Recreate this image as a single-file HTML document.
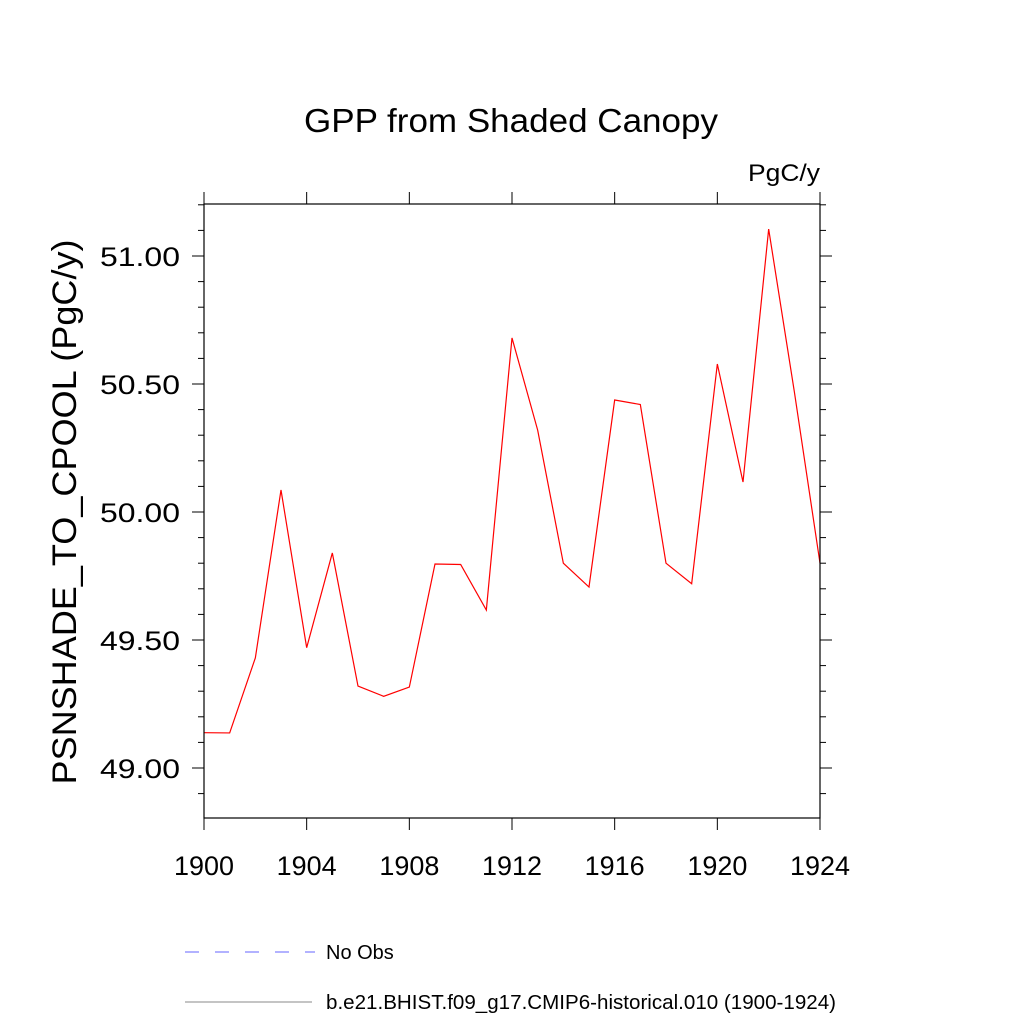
<!DOCTYPE html>
<html><head><meta charset="utf-8"><style>
body{margin:0;background:#fff}
svg{display:block;font-family:"Liberation Sans",sans-serif}
</style></head><body>
<svg id="chart" width="1024" height="1024" viewBox="0 0 1024 1024" xmlns="http://www.w3.org/2000/svg">
<rect width="1024" height="1024" fill="#fff"/>
<text x="511" y="132" font-size="33" text-anchor="middle" textLength="414" lengthAdjust="spacingAndGlyphs">GPP from Shaded Canopy</text>
<text x="820" y="181" font-size="24" text-anchor="end" textLength="72" lengthAdjust="spacingAndGlyphs">PgC/y</text>
<text transform="translate(76,512) rotate(-90)" font-size="34" text-anchor="middle" textLength="545" lengthAdjust="spacingAndGlyphs">PSNSHADE_TO_CPOOL  (PgC/y)</text>
<g id="ticks"></g>
<polyline id="series" fill="none" stroke="#ff0000" stroke-width="1.2"/>
<rect x="204" y="204" width="616" height="614" fill="none" stroke="#000" stroke-width="1.2"/>
<line x1="185" y1="952" x2="315" y2="952" stroke="#6666ff" stroke-width="1" stroke-dasharray="14,16"/>
<text x="326" y="959" font-size="20">No Obs</text>
<line x1="185" y1="1002" x2="312" y2="1002" stroke="#888" stroke-width="1"/>
<text x="326" y="1009" font-size="20" textLength="510" lengthAdjust="spacingAndGlyphs">b.e21.BHIST.f09_g17.CMIP6-historical.010 (1900-1924)</text>
</svg>
<script>
const years=[1900,1901,1902,1903,1904,1905,1906,1907,1908,1909,1910,1911,1912,1913,1914,1915,1916,1917,1918,1919,1920,1921,1922,1923,1924];
const values=[49.138,49.137,49.43,50.086,49.47,49.84,49.32,49.28,49.316,49.797,49.795,49.617,50.68,50.32,49.80,49.707,50.4375,50.42,49.80,49.72,50.578,50.117,51.105,50.47,49.80];
const xTicks=[1900,1904,1908,1912,1916,1920,1924];
const yTicks=[49.0,49.5,50.0,50.5,51.0];
const yTickLabels=["49.00","49.50","50.00","50.50","51.00"];
const X=v=>204+(v-1900)*616/24;
const Y=v=>512-(v-50)*256;
const ns="http://www.w3.org/2000/svg";
const g=document.getElementById('ticks');
function ln(x1,y1,x2,y2,name){const l=document.createElementNS(ns,'line');
l.setAttribute('x1',x1);l.setAttribute('y1',y1);l.setAttribute('x2',x2);l.setAttribute('y2',y2);
l.setAttribute('stroke','#000');l.setAttribute('stroke-width','1');


g.appendChild(l);}
function tx(x,y,s,anchor,len,name){const t=document.createElementNS(ns,'text');
t.setAttribute('x',x);t.setAttribute('y',y);t.setAttribute('font-size','27');t.setAttribute('text-anchor',anchor);t.textContent=s;
t.setAttribute('textLength',len);t.setAttribute('lengthAdjust','spacingAndGlyphs');


g.appendChild(t);}
xTicks.forEach(v=>{const x=X(v);ln(x,818,x,830,'x-tick');ln(x,204,x,192,'x-tick-top');tx(x,875,String(v),'middle',60,'x-tick-label');});
for(let i=0;i<=24;i++){const v=48.9+i*0.1;const y=Y(v);if(y<204||y>818)continue;
 const major=Math.abs(v*2-Math.round(v*2))<1e-6;const len=major?12:6;
 ln(204,y,204-len,y,'y-tick');ln(820,y,820+len,y,'y-tick-right');}
yTicks.forEach((v,i)=>tx(180,Y(v)+10,yTickLabels[i],'end',80,'y-tick-label'));
document.getElementById('series').setAttribute('points',years.map((yr,i)=>X(yr)+','+Y(values[i])).join(' '));
</script>
</body></html>
